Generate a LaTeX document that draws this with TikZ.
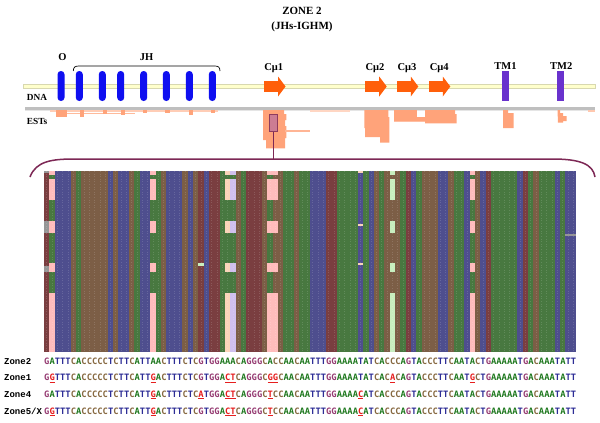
\documentclass[tikz,border=0pt]{standalone}
\usepackage{fontspec}
\setmainfont{Liberation Serif}
\newfontfamily\seqfont{DejaVu Sans Mono}
\newfontfamily\lblfont{Liberation Mono}
\definecolor{stA}{RGB}{72,120,64}
\definecolor{stC}{RGB}{124,94,70}
\definecolor{stG}{RGB}{122,62,64}
\definecolor{stT}{RGB}{78,78,142}
\definecolor{ntA}{RGB}{30,120,30}
\definecolor{ntC}{RGB}{135,105,65}
\definecolor{ntG}{RGB}{150,60,115}
\definecolor{ntT}{RGB}{45,45,150}
\definecolor{mm}{RGB}{230,30,30}
\definecolor{vG}{RGB}{255,188,188}
\definecolor{vA}{RGB}{200,238,190}
\definecolor{vT}{RGB}{208,192,238}
\definecolor{vC}{RGB}{250,212,185}
\definecolor{vgray}{RGB}{150,150,150}
\definecolor{est}{RGB}{255,163,122}
\definecolor{plum}{RGB}{125,40,85}
\definecolor{hlfill}{RGB}{204,124,147}
\definecolor{hldraw}{RGB}{142,59,94}
\definecolor{exonblue}{RGB}{15,15,240}
\definecolor{tmpurple}{RGB}{105,50,205}
\definecolor{corange}{RGB}{255,95,10}
\definecolor{dnafill}{RGB}{255,255,204}
\definecolor{dnadraw}{RGB}{216,216,176}
\newdimen\cw \cw=5.32pt
\newcount\colidx
\def\seqline#1{\seqloop#1\relax}
\def\seqloop#1{\ifx#1\relax\else\csname sqq#1\endcsname\expandafter\seqloop\fi}
\def\mmark#1{\makebox[\cw][c]{\color{mm}#1}\llap{\color{mm}\rule[-2pt]{\cw}{0.9pt}}}
\expandafter\def\csname sqqA\endcsname{\makebox[\cw][c]{\color{ntA}A}}
\expandafter\def\csname sqqC\endcsname{\makebox[\cw][c]{\color{ntC}C}}
\expandafter\def\csname sqqG\endcsname{\makebox[\cw][c]{\color{ntG}G}}
\expandafter\def\csname sqqT\endcsname{\makebox[\cw][c]{\color{ntT}T}}
\expandafter\def\csname sqqa\endcsname{\mmark{A}}
\expandafter\def\csname sqqc\endcsname{\mmark{C}}
\expandafter\def\csname sqqg\endcsname{\mmark{G}}
\expandafter\def\csname sqqt\endcsname{\mmark{T}}
\def\stripes#1{\colidx=0 \striploop#1\relax}
\def\striploop#1{\ifx#1\relax\else\fill[st#1] ({44+5.32*\the\colidx},171) rectangle ({49.6+5.32*\the\colidx},352);\advance\colidx by 1 \expandafter\striploop\fi}
\begin{document}
\begin{tikzpicture}[x=1pt,y=-1pt,
  title/.style={font=\fontsize{11}{13}\selectfont\bfseries, anchor=base, inner sep=0},
  glabel/.style={font=\fontsize{10.5}{12}\selectfont\bfseries, anchor=base, inner sep=0},
  tlabel/.style={font=\fontsize{9.3}{11}\selectfont\bfseries, anchor=base west, inner sep=0},
  exon/.style={fill=exonblue, draw=none, rounded corners=3.4pt, minimum width=7pt, minimum height=30pt, inner sep=0},
  tmbar/.style={fill=tmpurple, minimum width=7pt, minimum height=29.7pt, inner sep=0},
  cexon/.style={fill=corange},
  estc/.style={fill=est},
  hlbox/.style={fill=hlfill, draw=hldraw, line width=0.9pt, minimum width=8.4pt, minimum height=17.4pt, inner sep=0},
  zlabel/.style={font=\lblfont\bfseries\fontsize{9}{10}\selectfont, anchor=base west, inner sep=0, text=black},
  seqrow/.style={font=\seqfont\bfseries\fontsize{8.8}{10}\selectfont, anchor=base west, inner sep=0},
  plumline/.style={draw=plum, line width=1.5pt}]
\fill[white] (0,0) rectangle (600,423);
\useasboundingbox (0,0) rectangle (600,423);
% title
\node[title] (t1) at (302,14) {ZONE 2};
\node[title] (t2) at (302,29.3) {(JHs-IGHM)};
% DNA track
\draw[fill=dnafill, draw=dnadraw, line width=0.8pt] (23,84.3) rectangle (595,88.8);
\fill[gray!50] (25,107.3) rectangle (595,109.5);
\fill[gray!20] (25,109.5) rectangle (595,110.2);
\node[tlabel] (dna) at (26.7,100) {DNA};
\node[tlabel] (ests) at (26.7,124) {ESTs};
% JH exons
\node[exon] (o) at (61,86) {};
\node[exon] (j1) at (79.3,86) {};
\node[exon] (j2) at (102.3,86) {};
\node[exon] (j3) at (120.7,86) {};
\node[exon] (j4) at (143.7,86) {};
\node[exon] (j5) at (166.3,86) {};
\node[exon] (j6) at (189.3,86) {};
\node[exon] (j7) at (212.3,86) {};
\node[glabel] (ol) at (62.5,60) {O};
\node[glabel] (jhl) at (146.7,60) {JH};
\draw[line width=0.7pt] (73.3,71) .. controls (73.5,67) and (75,66) .. (79,66) -- (214.5,66) .. controls (218.5,66) and (219.8,67) .. (220,71);
% C mu exons
\foreach \a/\b in {264/285.5,365/386.7,397/418.3,429/450.3}{
  \fill[cexon] (\a,81) -- ({\b-7.5},81) -- ({\b-7.5},76.5) -- (\b,86.5) -- ({\b-7.5},96.5) -- ({\b-7.5},91.8) -- (\a,91.8) -- cycle;
}
\node[glabel] (c1) at (273.8,70.3) {Cμ1};
\node[glabel] (c2) at (375,70.3) {Cμ2};
\node[glabel] (c3) at (407,70.3) {Cμ3};
\node[glabel] (c4) at (439.2,70.3) {Cμ4};
\node[tmbar] (tm1b) at (505.5,85.9) {};
\node[tmbar] (tm2b) at (560.5,85.9) {};
\node[glabel] (tm1) at (505.5,69.5) {TM1};
\node[glabel] (tm2) at (561.3,69.5) {TM2};
% ESTs
\fill[est!55] (50,110.2) rectangle (218,112);
\fill[est!75] (67,113) rectangle (135,114.3);
\fill[estc] (56,110.2) rectangle (67,117);
\foreach \a/\b/\h in {80/84/116.5,102.5/106.5/114,120.5/125/115,142.5/147/113,165/169.5/113,189/193/115,211/215/112.5}{
  \fill[estc] (\a,110.2) rectangle (\b,\h);
}
\fill[estc] (263,110.2) -- (284,110.2) -- (284,114) -- (286.3,114) -- (286.3,120) -- (285,120) -- (285,126) -- (286.3,126) -- (286.3,138) -- (285,138) -- (285,148.3) -- (266,148.3) -- (266,140) -- (263,140) -- cycle;
\fill[est!80] (285,130.4) rectangle (310,131.6);
\fill[est!45] (310,110.2) rectangle (350,111.5);
\fill[estc] (364.3,110.2) -- (388.3,110.2) -- (388.3,117) -- (389.3,117) -- (389.3,142.7) -- (380,142.7) -- (380,137) -- (365,137) -- (365,128) -- (364.3,128) -- cycle;
\fill[estc] (394.3,110.2) rectangle (416.7,120.7);
\fill[estc] (416.5,117.3) rectangle (425.5,120.7);
\fill[est!70] (394.3,120.5) rectangle (456,121.6);
\fill[estc] (425,110.2) -- (455,110.2) -- (455,114) -- (456.7,114) -- (456.7,123.3) -- (425,123.3) -- cycle;
\fill[estc] (503,110.2) -- (508,110.2) -- (508,113) -- (513.7,113) -- (513.7,128) -- (503,128) -- cycle;
\fill[estc] (557.5,110.2) -- (560,110.2) -- (560,113) -- (563,113) -- (563,116) -- (566.7,116) -- (566.7,121) -- (563,121) -- (563,122.7) -- (558,122.7) -- cycle;
\fill[est!60] (588,110.2) rectangle (595,111.6);
% highlight and zoom brace
\node[hlbox] (hl) at (273.5,123) {};
\coordinate (bracetop) at (273.5,159);
\draw[plumline] (30,177) .. controls (36,161) and (52,159) .. (75,159) -- (bracetop) -- (552,159) .. controls (580,159) and (593,164) .. (595,177);
\draw[plumline] (hl.south) -- (bracetop);
% alignment block
\stripes{GATTTCACCCCCTCTTCATTAACTTTCTCGTGGAAACAGGGCACCAACAATTTGGAAAATATCACCCAGTACCCTTCAATACTGAAAAATGACAAATATT}
\foreach \c/\col in {2/vG,21/vG,35/vC,36/vT,43/vG,44/vG,66/vA,81/vG}{
  \foreach \ya/\yb in {171/175,179/200,221/233,263/272,293/352}{
    \fill[\col] ({44+5.32*(\c-1)},\ya) rectangle ({44+5.32*\c},\yb);
  }
}
\foreach \ya/\yb in {171/173,224/226,263/265}{
  \fill[vC] ({44+5.32*59},\ya) rectangle ({44+5.32*60},\yb);
}
\fill[vA] ({44+5.32*29},263) rectangle ({44+5.32*30},266);
\foreach \ya/\yb in {171/173,221/233,266/272}{
  \fill[vgray] (44,\ya) rectangle ({44+5.32},\yb);
}
\fill[vgray] (565,234) rectangle (575.5,236);
\foreach \i in {0,...,99}{
  \draw[white, opacity=0.14, line width=0.7pt, dash pattern=on 1pt off 1.6pt] ({46.66+5.32*\i},171) -- ({46.66+5.32*\i},352);
}
% sequences
\node[zlabel] (l2) at (4,364) {Zone2};
\node[zlabel] (l1) at (4,380.7) {Zone1};
\node[zlabel] (l4) at (4,397.3) {Zone4};
\node[zlabel] (l5) at (4,414) {Zone5/X};
\node[seqrow] (s2) at (44,364) {\seqline{GATTTCACCCCCTCTTCATTAACTTTCTCGTGGAAACAGGGCACCAACAATTTGGAAAATATCACCCAGTACCCTTCAATACTGAAAAATGACAAATATT}};
\node[seqrow] (s1) at (44,380.7) {\seqline{GgTTTCACCCCCTCTTCATTgACTTTCTCGTGGActCAGGGCggCAACAATTTGGAAAATATCACaCAGTACCCTTCAATgCTGAAAAATGACAAATATT}};
\node[seqrow] (s4) at (44,397.3) {\seqline{GATTTCACCCCCTCTTCATTgACTTTCTCaTGGActCAGGGCtCCAACAATTTGGAAAAcATCACCCAGTACCCTTCAATACTGAAAAATGACAAATATT}};
\node[seqrow] (s5) at (44,414) {\seqline{GgTTTCACCCCCTCTTCATTgACTTTCTCGTGGActCAGGGCtCCAACAATTTGGAAAAcATCACCCAGTACCCTTCAATACTGAAAAATGACAAATATT}};
\end{tikzpicture}
\end{document}
